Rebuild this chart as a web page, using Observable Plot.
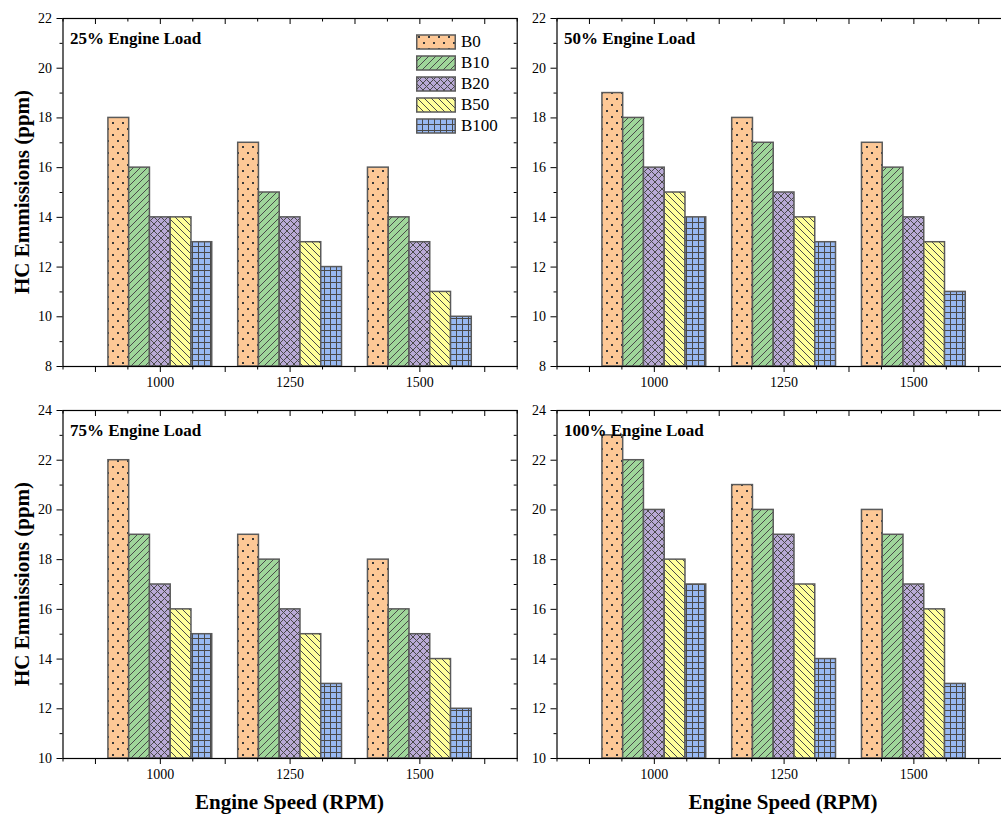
<!DOCTYPE html>
<html><head><meta charset="utf-8">
<script src="https://cdn.jsdelivr.net/npm/d3@7"></script>
<script src="https://cdn.jsdelivr.net/npm/@observablehq/plot@0.6"></script>
<style>
body{margin:0;background:#fff;overflow:hidden;}
#root{position:relative;width:1001px;height:815px;overflow:hidden;font-family:"Liberation Serif","Times New Roman",serif;color:#000;}
.panel{position:absolute;width:530px;height:395px;}
.panel svg{max-width:none !important;}
.ytitle{position:absolute;font-weight:bold;font-size:21px;white-space:nowrap;transform:translate(-50%,-50%) rotate(-90deg);}
.xtitle{position:absolute;font-weight:bold;font-size:21px;white-space:nowrap;transform:translate(-50%,-50%);}
.legrow{position:absolute;display:flex;align-items:center;height:16px;}
.legrow span{font-size:17px;margin-left:5px;line-height:16px;}
</style></head>
<body>
<svg width="0" height="0" style="position:absolute">
<defs>
<pattern id="pat0" patternUnits="userSpaceOnUse" width="10" height="12">
  <rect width="10" height="12" fill="#FDC896"/>
  <rect x="2" y="2" width="2" height="2" fill="#3a3a3a"/>
  <rect x="7" y="8" width="2" height="2" fill="#3a3a3a"/>
</pattern>
<pattern id="pat1" patternUnits="userSpaceOnUse" width="7" height="7">
  <rect width="7" height="7" fill="#9FD69A"/>
  <path d="M-1,1 L1,-1 M0,7 L7,0 M6,8 L8,6" stroke="#4a4a4a" stroke-width="1"/>
</pattern>
<pattern id="pat2" patternUnits="userSpaceOnUse" width="7" height="7">
  <rect width="7" height="7" fill="#B9AAD6"/>
  <path d="M-1,1 L1,-1 M0,7 L7,0 M6,8 L8,6 M-1,6 L1,8 M0,0 L7,7 M6,-1 L8,1" stroke="#4a4a4a" stroke-width="1"/>
</pattern>
<pattern id="pat3" patternUnits="userSpaceOnUse" width="7" height="7">
  <rect width="7" height="7" fill="#FFFF9A"/>
  <path d="M-1,6 L1,8 M0,0 L7,7 M6,-1 L8,1" stroke="#4a4a4a" stroke-width="1"/>
</pattern>
<pattern id="pat4" patternUnits="userSpaceOnUse" width="6" height="6">
  <rect width="6" height="6" fill="#98B9F2"/>
  <path d="M0,0.5 H6 M0.5,0 V6" stroke="#4a4a4a" stroke-width="1"/>
</pattern>
</defs>
</svg>
<div id="root"></div>
<script>
// ---- data ----
const speeds = [1000, 1250, 1500];
const fuels = ["B0", "B10", "B20", "B50", "B100"];
const loadLabels = ["25% Engine Load", "50% Engine Load", "75% Engine Load", "100% Engine Load"];
const hc25  = [[18, 16, 14, 14, 13], [17, 15, 14, 13, 12], [16, 14, 13, 11, 10]];
const hc50  = [[19, 18, 16, 15, 14], [18, 17, 15, 14, 13], [17, 16, 14, 13, 11]];
const hc75  = [[22, 19, 17, 16, 15], [19, 18, 16, 15, 13], [18, 16, 15, 14, 12]];
const hc100 = [[23, 22, 20, 18, 17], [21, 20, 19, 17, 14], [20, 19, 17, 16, 13]];
const yRanges = [[8, 22], [8, 22], [10, 24], [10, 24]];
const xTickLabels = [1000, 1250, 1500];
const yTitle = "HC Emmissions (ppm)";
const xTitle = "Engine Speed (RPM)";

const FONT = '"Liberation Serif","Times New Roman",serif';
const root = document.getElementById("root");
const W = 530, H = 395, mL = 62.5, mR = 13.3, mT = 18, mB = 29;
const pw = W - mL - mR, ph = H - mT - mB;
const xd = [812.5, 1687.5];
const barW = 40;
const panelPos = [[0, 0], [493.5, 0], [0, 392], [493.5, 392]];
const allValues = [hc25, hc50, hc75, hc100];

function makePanel(values, label, yr) {
  const [y0, y1] = yr;
  const kx = (xd[1] - xd[0]) / pw, ky = (y1 - y0) / ph;
  const rows = [];
  speeds.forEach((s, si) => fuels.forEach((f, fi) => rows.push({s, f, fi, v: values[si][fi]})));
  const xMajor = d3.range(875, 1687.5, 125);
  const xMinor = d3.range(812.5, 1688, 125);
  const yMajor = d3.range(y0, y1 + 0.001, 2);
  const yMinor = d3.range(y0 + 1, y1, 2);
  const barMarks = fuels.map((f, fi) => Plot.rect(rows.filter(d => d.fi === fi), {
    x1: d => d.s + (d.fi - 2) * barW - barW / 2,
    x2: d => d.s + (d.fi - 2) * barW + barW / 2,
    y1: y0, y2: "v",
    fill: `url(#pat${fi})`, stroke: "#5a5a5a", strokeWidth: 1.5
  }));
  return Plot.plot({
    width: W, height: H, marginLeft: mL, marginRight: mR, marginTop: mT, marginBottom: mB,
    x: {domain: xd}, y: {domain: [y0, y1]},
    style: {fontFamily: FONT, fontSize: "14px", color: "black", background: "none", overflow: "visible", maxWidth: "none"},
    marks: [
      ...barMarks,
      Plot.frame({stroke: "black", strokeWidth: 1.2}),
      Plot.axisX({ticks: xMajor, tickSize: 6, tickFormat: () => "", label: null}),
      Plot.axisX({ticks: xMinor, tickSize: 3.5, tickFormat: () => "", label: null}),
      Plot.axisX({ticks: xTickLabels, tickSize: 0, tickPadding: 11, tickFormat: d => String(d), label: null, fontFamily: FONT, fontSize: 14}),
      Plot.axisY({ticks: yMajor, tickSize: 6, tickPadding: 5, tickFormat: d => String(d), label: null, fontFamily: FONT, fontSize: 14}),
      Plot.axisY({ticks: yMinor, tickSize: 3, tickFormat: () => "", label: null}),
      Plot.ruleX(xMajor, {x: d => d, y1: y1, y2: y1 - 6 * ky, stroke: "black"}),
      Plot.ruleX(xMinor, {x: d => d, y1: y1, y2: y1 - 3.5 * ky, stroke: "black"}),
      Plot.ruleY(yMajor, {y: d => d, x1: xd[1], x2: xd[1] - 6 * kx, stroke: "black"}),
      Plot.ruleY(yMinor, {y: d => d, x1: xd[1], x2: xd[1] - 3 * kx, stroke: "black"}),
      Plot.text([label], {frameAnchor: "top-left", dx: 7, dy: 19.6, lineAnchor: "middle", textAnchor: "start", fontWeight: "bold", fontSize: 17, fontFamily: FONT})
    ]
  });
}

allValues.forEach((vals, i) => {
  const svg = makePanel(vals, loadLabels[i], yRanges[i]);
  const wrap = document.createElement("div");
  wrap.className = "panel";
  wrap.style.left = panelPos[i][0] + "px";
  wrap.style.top = panelPos[i][1] + "px";
  wrap.appendChild(svg);
  root.appendChild(wrap);
});

// axis titles
[[22, 192], [22, 584]].forEach(([x, y]) => {
  const d = document.createElement("div");
  d.className = "ytitle"; d.textContent = yTitle;
  d.style.left = x + "px"; d.style.top = y + "px";
  root.appendChild(d);
});
[[289.6, 802], [783, 802]].forEach(([x, y]) => {
  const d = document.createElement("div");
  d.className = "xtitle"; d.textContent = xTitle;
  d.style.left = x + "px"; d.style.top = y + "px";
  root.appendChild(d);
});

// legend
fuels.forEach((f, fi) => {
  const row = document.createElement("div");
  row.className = "legrow";
  row.style.left = "416px";
  row.style.top = (34 + 21 * fi) + "px";
  row.innerHTML = `<svg width="40" height="16"><rect x="0.75" y="1" width="38.5" height="14" fill="url(#pat${fi})" stroke="#5a5a5a" stroke-width="1.5"/></svg><span>${f}</span>`;
  root.appendChild(row);
});
</script>
</body></html>
